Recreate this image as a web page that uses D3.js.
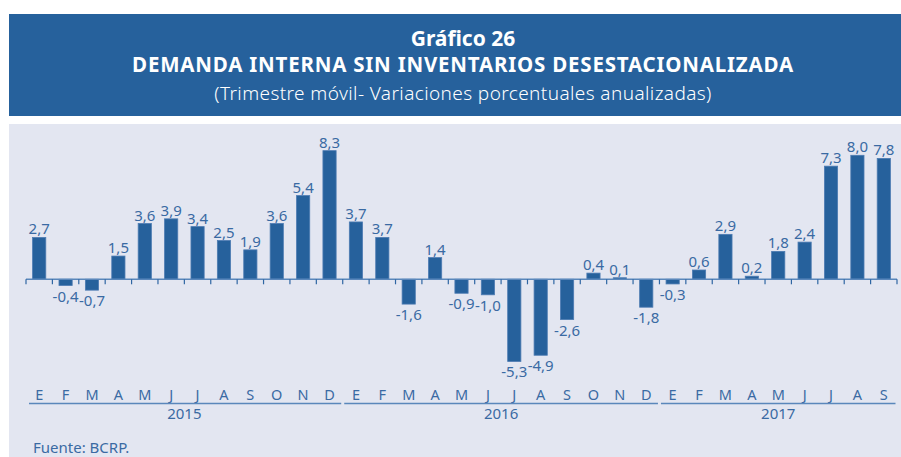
<!DOCTYPE html>
<html>
<head>
<meta charset="utf-8">
<script src="https://cdn.jsdelivr.net/npm/d3@7"></script>
<style>
  body { margin: 0; background: #fff; }
  svg { display: block; font-family: "Noto Sans", "Open Sans", sans-serif; }
</style>
</head>
<body>
<svg id="chart" width="901" height="457"></svg>
<script>
// data
const years = ["2015", "2016", "2017"];
const months = ["E", "F", "M", "A", "M", "J", "J", "A", "S", "O", "N", "D"];
const monthsPerYear = [12, 12, 9];
const values = [
  2.7, -0.4, -0.7, 1.5, 3.6, 3.9, 3.4, 2.5, 1.9, 3.6, 5.4, 8.3,
  3.7, 2.7, -1.6, 1.4, -0.9, -1.0, -5.3, -4.9, -2.6, 0.4, 0.1, -1.8,
  -0.3, 0.6, 2.9, 0.2, 1.8, 2.4, 7.3, 8.0, 7.8
];
// labels as printed in the original (second 2016 bar is labelled 3,7)
const labels = [
  "2,7", "-0,4", "-0,7", "1,5", "3,6", "3,9", "3,4", "2,5", "1,9", "3,6", "5,4", "8,3",
  "3,7", "3,7", "-1,6", "1,4", "-0,9", "-1,0", "-5,3", "-4,9", "-2,6", "0,4", "0,1", "-1,8",
  "-0,3", "0,6", "2,9", "0,2", "1,8", "2,4", "7,3", "8,0", "7,8"
];

const blue = "#26619c";
const textBlue = "#3a6aa3";
const axisBlue = "#5a87bb";

const svg = d3.select("#chart");

// header
svg.append("rect").attr("x", 9).attr("y", 14).attr("width", 892).attr("height", 102).attr("fill", blue);
const cx = 463;
svg.append("text").attr("x", cx).attr("y", 46).attr("text-anchor", "middle")
  .attr("fill", "#fff").style("font-size", "21px").style("font-weight", "bold").text("Gráfico 26");
svg.append("text").attr("x", cx).attr("y", 72).attr("text-anchor", "middle")
  .attr("fill", "#fff").style("font-size", "20.5px").style("font-weight", "bold")
  .style("letter-spacing", "0.8px")
  .text("DEMANDA INTERNA SIN INVENTARIOS DESESTACIONALIZADA");
svg.append("text").attr("x", cx).attr("y", 100).attr("text-anchor", "middle")
  .attr("fill", "#fff").style("font-size", "19px").style("font-weight", "300")
  .style("letter-spacing", "0.4px")
  .text("(Trimestre móvil- Variaciones porcentuales anualizadas)");

// panel
svg.append("rect").attr("x", 9).attr("y", 124).attr("width", 892).attr("height", 333).attr("fill", "#e3e6f1");

// scales
const idx = d3.range(values.length);
const x = d3.scaleBand().domain(idx).range([26, 897]).paddingInner(0.5).paddingOuter(0.25);
const step = x.step();
const left = 26;
const y = d3.scaleLinear().domain([-6, 9]).range([372.3, 139.8]);
const zero = y(0);

const g = svg.append("g");

// bars
g.selectAll(".bar").data(idx).enter().append("rect")
  .attr("class", "bar")
  .attr("x", i => x(i))
  .attr("y", i => y(Math.max(0, values[i])))
  .attr("width", x.bandwidth())
  .attr("height", i => Math.abs(y(values[i]) - zero))
  .attr("fill", blue)
  .attr("stroke", "#4c7bb2").attr("stroke-width", 0.8);

// zero axis + ticks
g.append("line").attr("x1", left).attr("x2", left + step * values.length)
  .attr("y1", zero).attr("y2", zero).attr("stroke", axisBlue).attr("stroke-width", 1.5);
g.selectAll(".tick").data(d3.range(values.length + 1)).enter().append("line")
  .attr("x1", i => left + i * step).attr("x2", i => left + i * step)
  .attr("y1", zero).attr("y2", zero + 5)
  .attr("stroke", "#2f66a3").attr("stroke-width", 1.2);

// value labels
g.selectAll(".label").data(idx).enter().append("text")
  .attr("class", "label")
  .attr("x", i => x(i) + x.bandwidth() / 2)
  .attr("y", i => values[i] >= 0 ? y(values[i]) - 3 : y(values[i]) + 16)
  .attr("text-anchor", "middle")
  .attr("fill", textBlue)
  .style("font-size", "15px")
  .text(i => labels[i]);

// month labels
g.selectAll(".month").data(idx).enter().append("text")
  .attr("class", "month")
  .attr("x", i => x(i) + x.bandwidth() / 2)
  .attr("y", 400)
  .attr("text-anchor", "middle")
  .attr("fill", textBlue)
  .style("font-size", "14.5px")
  .text(i => months[i % 12]);

// year lines + year labels
let start = 0;
years.forEach((yr, k) => {
  const n = monthsPerYear[k];
  const x0 = left + start * step, x1 = left + (start + n) * step;
  g.append("line").attr("x1", x0 + (k === 0 ? 3 : 1.5)).attr("x2", x1 - 1.5)
    .attr("y1", 403.5).attr("y2", 403.5).attr("stroke", axisBlue).attr("stroke-width", 1.5);
  g.append("text").attr("x", (x0 + x1) / 2).attr("y", 419)
    .attr("text-anchor", "middle").attr("fill", textBlue).style("font-size", "15px").text(yr);
  start += n;
});

svg.append("text").attr("x", 33).attr("y", 453).attr("fill", textBlue)
  .style("font-size", "15px").text("Fuente: BCRP.");
</script>
</body>
</html>
